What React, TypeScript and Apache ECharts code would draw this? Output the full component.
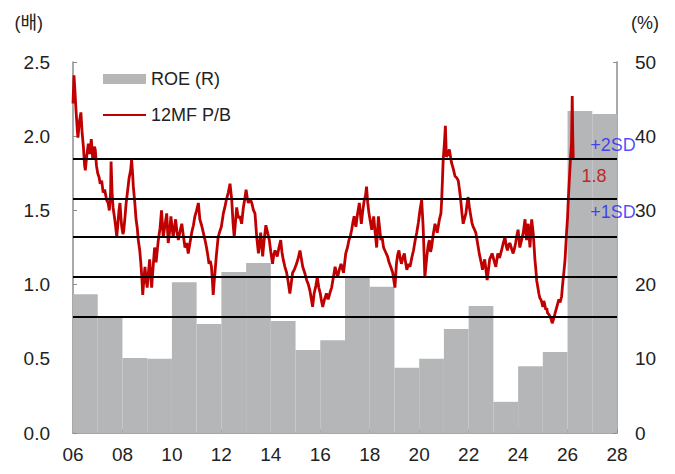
import React, { useEffect, useRef } from "react";
import * as echarts from "echarts";

const roeYears = [2006, 2007, 2008, 2009, 2010, 2011, 2012, 2013, 2014, 2015, 2016, 2017, 2018, 2019, 2020, 2021, 2022, 2023, 2024, 2025, 2026, 2027];
const roeValues = [18.7, 15.5, 10.1, 10.0, 20.3, 14.7, 21.7, 22.9, 15.1, 11.2, 12.5, 21.0, 19.7, 8.8, 10.0, 14.0, 17.1, 4.2, 9.0, 10.9, 43.4, 43.0];

const pbDates = [
  2006.00, 2006.04, 2006.08, 2006.12, 2006.17, 2006.20, 2006.26, 2006.32, 2006.37, 2006.42,
  2006.47, 2006.50, 2006.55, 2006.62, 2006.68, 2006.74, 2006.80, 2006.86, 2006.90, 2006.95,
  2007.00, 2007.06, 2007.10, 2007.16, 2007.22, 2007.28, 2007.36, 2007.42, 2007.47, 2007.52,
  2007.54, 2007.58, 2007.62, 2007.68, 2007.72, 2007.77, 2007.82, 2007.86, 2007.90, 2007.94,
  2007.97, 2008.02, 2008.05, 2008.10, 2008.15, 2008.20, 2008.27, 2008.33, 2008.37, 2008.41,
  2008.44, 2008.50, 2008.55, 2008.60, 2008.64, 2008.70, 2008.74, 2008.78, 2008.82, 2008.86,
  2008.91, 2008.96, 2009.00, 2009.05, 2009.10, 2009.14, 2009.18, 2009.24, 2009.30, 2009.36,
  2009.45, 2009.52, 2009.58, 2009.65, 2009.72, 2009.79, 2009.85, 2009.91, 2009.96, 2010.05,
  2010.10, 2010.15, 2010.20, 2010.26, 2010.33, 2010.40, 2010.47, 2010.53, 2010.60, 2010.66,
  2010.73, 2010.80, 2010.87, 2010.93, 2011.00, 2011.07, 2011.13, 2011.20, 2011.27, 2011.34,
  2011.40, 2011.45, 2011.50, 2011.55, 2011.60, 2011.64, 2011.67, 2011.70, 2011.74, 2011.80,
  2011.87, 2011.94, 2012.00, 2012.08, 2012.14, 2012.20, 2012.28, 2012.35, 2012.42, 2012.47,
  2012.52, 2012.57, 2012.62, 2012.68, 2012.75, 2012.82, 2012.89, 2012.95, 2013.00, 2013.05,
  2013.09, 2013.16, 2013.23, 2013.30, 2013.36, 2013.43, 2013.50, 2013.55, 2013.59, 2013.67,
  2013.73, 2013.80, 2013.87, 2013.94, 2014.00, 2014.07, 2014.12, 2014.17, 2014.26, 2014.33,
  2014.40, 2014.45, 2014.50, 2014.57, 2014.64, 2014.70, 2014.77, 2014.82, 2014.88, 2014.95,
  2015.04, 2015.11, 2015.18, 2015.24, 2015.29, 2015.37, 2015.45, 2015.52, 2015.58, 2015.64,
  2015.69, 2015.75, 2015.82, 2015.88, 2015.94, 2016.00, 2016.05, 2016.10, 2016.17, 2016.25,
  2016.32, 2016.40, 2016.46, 2016.53, 2016.60, 2016.70, 2016.77, 2016.84, 2016.94, 2017.03,
  2017.10, 2017.16, 2017.22, 2017.27, 2017.32, 2017.37, 2017.44, 2017.51, 2017.58, 2017.66,
  2017.72, 2017.78, 2017.83, 2017.87, 2017.92, 2017.97, 2018.03, 2018.08, 2018.16, 2018.22,
  2018.28, 2018.35, 2018.40, 2018.45, 2018.50, 2018.56, 2018.64, 2018.72, 2018.78, 2018.85,
  2018.93, 2019.00, 2019.02, 2019.08, 2019.13, 2019.18, 2019.23, 2019.28, 2019.34, 2019.40,
  2019.45, 2019.50, 2019.57, 2019.63, 2019.70, 2019.77, 2019.84, 2019.90, 2019.97, 2020.03,
  2020.10, 2020.16, 2020.20, 2020.23, 2020.27, 2020.31, 2020.36, 2020.41, 2020.46, 2020.50,
  2020.57, 2020.64, 2020.73, 2020.82, 2020.88, 2020.91, 2020.94, 2020.97, 2021.02, 2021.06,
  2021.10, 2021.16, 2021.22, 2021.27, 2021.31, 2021.38, 2021.45, 2021.52, 2021.58, 2021.63,
  2021.68, 2021.73, 2021.78, 2021.84, 2021.89, 2021.94, 2021.98, 2022.03, 2022.07, 2022.13,
  2022.18, 2022.24, 2022.29, 2022.34, 2022.39, 2022.44, 2022.48, 2022.52, 2022.56, 2022.61,
  2022.65, 2022.70, 2022.75, 2022.80, 2022.85, 2022.95, 2023.03, 2023.10, 2023.18, 2023.25,
  2023.33, 2023.40, 2023.47, 2023.52, 2023.57, 2023.62, 2023.67, 2023.74, 2023.80, 2023.85,
  2023.90, 2023.95, 2024.00, 2024.04, 2024.07, 2024.14, 2024.21, 2024.28, 2024.34, 2024.41,
  2024.48, 2024.55, 2024.61, 2024.65, 2024.68, 2024.72, 2024.75, 2024.80, 2024.84, 2024.88,
  2024.92, 2024.96, 2025.00, 2025.04, 2025.07, 2025.12, 2025.16, 2025.19, 2025.24, 2025.28,
  2025.33, 2025.38, 2025.44, 2025.50, 2025.55, 2025.60, 2025.65, 2025.70, 2025.76, 2025.80,
  2025.85, 2025.90, 2025.96, 2026.00, 2026.03, 2026.07, 2026.10, 2026.13, 2026.16, 2026.19,
  2026.21, 2026.23
];
const pbValues = [
  2.22, 2.41, 2.30, 2.18, 2.05, 1.99, 2.10, 2.16, 2.02, 1.93,
  1.80, 1.77, 1.86, 1.95, 1.88, 1.98, 1.84, 1.93, 1.91, 1.80,
  1.75, 1.72, 1.68, 1.70, 1.62, 1.64, 1.57, 1.55, 1.50, 1.62,
  1.83, 1.62, 1.52, 1.45, 1.40, 1.32, 1.42, 1.50, 1.55, 1.45,
  1.39, 1.34, 1.36, 1.45, 1.55, 1.62, 1.72, 1.77, 1.84, 1.75,
  1.66, 1.55, 1.44, 1.38, 1.30, 1.23, 1.15, 1.06, 0.93, 1.02,
  1.12, 1.03, 0.98, 1.08, 1.17, 1.06, 0.98, 1.12, 1.25, 1.15,
  1.30, 1.38, 1.50, 1.32, 1.40, 1.48, 1.28, 1.36, 1.46, 1.32,
  1.38, 1.44, 1.36, 1.30, 1.36, 1.41, 1.32, 1.25, 1.28, 1.21,
  1.28, 1.35, 1.40, 1.46, 1.50, 1.55, 1.44, 1.40, 1.35, 1.30,
  1.25, 1.20, 1.14, 1.16, 1.12, 1.02, 0.93, 1.00, 1.08, 1.20,
  1.32, 1.36, 1.39, 1.48, 1.52, 1.57, 1.62, 1.68, 1.57, 1.42,
  1.32, 1.42, 1.52, 1.45, 1.46, 1.41, 1.52, 1.58, 1.64, 1.58,
  1.55, 1.58, 1.55, 1.50, 1.48, 1.32, 1.21, 1.28, 1.35, 1.19,
  1.30, 1.40, 1.35, 1.30, 1.22, 1.14, 1.20, 1.23, 1.19, 1.25,
  1.30, 1.22, 1.17, 1.12, 1.08, 1.02, 0.94, 1.00, 1.08, 1.10,
  1.14, 1.18, 1.23, 1.17, 1.12, 1.08, 1.03, 1.00, 0.96, 0.90,
  0.85, 0.94, 0.99, 1.05, 0.98, 0.94, 0.89, 0.85, 0.90, 0.94,
  0.90, 0.95, 0.98, 1.05, 1.12, 1.05, 1.10, 1.14, 1.08, 1.21,
  1.25, 1.30, 1.33, 1.37, 1.42, 1.46, 1.39, 1.48, 1.55, 1.41,
  1.50, 1.57, 1.60, 1.66, 1.55, 1.48, 1.42, 1.37, 1.46, 1.35,
  1.25, 1.46, 1.38, 1.30, 1.32, 1.25, 1.22, 1.19, 1.15, 1.12,
  1.08, 1.00, 0.98, 1.14, 1.20, 1.23, 1.18, 1.14, 1.18, 1.21,
  1.15, 1.10, 1.14, 1.12, 1.18, 1.23, 1.30, 1.35, 1.42, 1.50,
  1.57, 1.39, 1.20, 1.05, 1.12, 1.19, 1.26, 1.30, 1.22, 1.25,
  1.34, 1.41, 1.35, 1.44, 1.48, 1.57, 1.70, 1.84, 1.95, 2.07,
  1.86, 1.88, 1.91, 1.86, 1.82, 1.78, 1.73, 1.72, 1.70, 1.64,
  1.57, 1.48, 1.41, 1.45, 1.48, 1.55, 1.59, 1.52, 1.48, 1.42,
  1.39, 1.37, 1.35, 1.30, 1.25, 1.20, 1.17, 1.14, 1.10, 1.14,
  1.17, 1.10, 1.03, 1.10, 1.17, 1.21, 1.16, 1.12, 1.21, 1.18,
  1.23, 1.28, 1.32, 1.26, 1.23, 1.27, 1.28, 1.24, 1.21, 1.24,
  1.28, 1.33, 1.37, 1.30, 1.25, 1.30, 1.35, 1.44, 1.30, 1.41,
  1.25, 1.44, 1.35, 1.25, 1.17, 1.10, 1.03, 0.98, 0.94, 0.91,
  0.90, 0.88, 0.85, 0.89, 0.87, 0.83, 0.84, 0.81, 0.80, 0.79,
  0.77, 0.74, 0.77, 0.81, 0.84, 0.87, 0.90, 0.88, 0.92, 1.00,
  1.08, 1.17, 1.35, 1.45, 1.57, 1.70, 1.79, 1.88, 1.95, 2.27,
  2.00, 1.85
];

const sdLevels = [0.78, 1.05, 1.32, 1.585, 1.85];
const annotations = [
  { text: "+2SD", x: 2027.84, y: 1.94, color: "#1f1fff" },
  { text: "1.8", x: 2027.07, y: 1.73, color: "#c00000" },
  { text: "+1SD", x: 2027.84, y: 1.49, color: "#1f1fff" },
];

const FONT = "'Liberation Sans', Arial, 'Noto Sans CJK KR', sans-serif";

export default function App() {
  const ref = useRef<HTMLDivElement>(null);
  useEffect(() => {
    if (!ref.current) return;
    const chart = echarts.init(ref.current, null, { renderer: "svg" });
    const roeData = roeYears.map((y, i) => [y, roeValues[i]]);
    const pbData = pbDates.map((d, i) => [d, pbValues[i]]);
    const axisLine = { show: true, lineStyle: { color: "#8c8c8c", width: 1.5 } };
    const axisTick = { show: true, inside: true, length: 4, lineStyle: { color: "#8c8c8c" } };
    const labelStyle = { color: "#222", fontSize: 19, fontFamily: FONT };
    chart.setOption({
      animation: false,
      textStyle: { fontFamily: FONT },
      grid: { left: 73, right: 58, top: 62, bottom: 41 },
      legend: {
        orient: "vertical",
        left: 102,
        top: 70,
        padding: 0,
        itemWidth: 43,
        itemHeight: 10,
        itemGap: 18,
        textStyle: { color: "#222", fontSize: 18, fontFamily: FONT },
        data: [
          { name: "ROE (R)", icon: "rect" },
          { name: "12MF P/B", itemStyle: { opacity: 0 } },
        ],
      },
      xAxis: {
        type: "value",
        min: 2006,
        max: 2028,
        interval: 2,
        axisLine,
        axisTick,
        splitLine: { show: false },
        axisLabel: {
          ...labelStyle,
          margin: 12,
          formatter: (v: number) => String(v % 100).padStart(2, "0"),
        },
      },
      yAxis: [
        {
          type: "value",
          min: 0,
          max: 2.5,
          interval: 0.5,
          name: "(배)",
          nameLocation: "end",
          nameGap: 30,
          nameTextStyle: { color: "#222", fontSize: 18, fontFamily: FONT, align: "right", padding: [0, 30, 0, 0] },
          axisLine,
          axisTick,
          splitLine: { show: false },
          axisLabel: { ...labelStyle, margin: 23, formatter: (v: number) => v.toFixed(1) },
        },
        {
          type: "value",
          min: 0,
          max: 50,
          interval: 10,
          name: "(%)",
          nameLocation: "end",
          nameGap: 30,
          nameTextStyle: { color: "#222", fontSize: 18, fontFamily: FONT, align: "left", padding: [0, 0, 0, 14] },
          axisLine,
          axisTick,
          splitLine: { show: false },
          axisLabel: { ...labelStyle, margin: 18 },
        },
      ],
      series: [
        {
          name: "ROE (R)",
          type: "custom",
          yAxisIndex: 1,
          itemStyle: { color: "#b5b6b8" },
          encode: { x: 0, y: 1 },
          data: roeData,
          renderItem: (params: any, api: any) => {
            const year = api.value(0);
            const v = api.value(1);
            const p0 = api.coord([year, v]);
            const p1 = api.coord([year + 1, 0]);
            return {
              type: "rect",
              shape: { x: p0[0], y: p0[1], width: p1[0] - p0[0], height: p1[1] - p0[1] },
              style: { fill: "#b5b6b8" },
            };
          },
          z: 1,
        },
        {
          name: "sd",
          type: "line",
          yAxisIndex: 0,
          data: [],
          z: 2,
          markLine: {
            silent: true,
            symbol: ["none", "none"],
            label: { show: false },
            lineStyle: { color: "#000", type: "solid", width: 2 },
            data: sdLevels.map((v) => ({ yAxis: v })),
          },
        },
        {
          name: "12MF P/B",
          type: "line",
          yAxisIndex: 0,
          data: pbData,
          showSymbol: false,
          symbol: "none",
          lineStyle: { color: "#c00000", width: 2.8 },
          itemStyle: { color: "#c00000" },
          z: 3,
        },
        {
          name: "notes",
          type: "scatter",
          yAxisIndex: 0,
          symbolSize: 0,
          z: 4,
          data: annotations.map((a) => ({
            value: [a.x, a.y],
            label: {
              show: true,
              position: "inside",
              formatter: a.text,
              color: a.color,
              fontSize: 18,
              fontFamily: FONT,
            },
          })),
        },
      ],
    });
    return () => chart.dispose();
  }, []);
  return <div ref={ref} style={{ position: "fixed", left: 0, top: 0, width: 675, height: 474, background: "#fff" }} />;
}
